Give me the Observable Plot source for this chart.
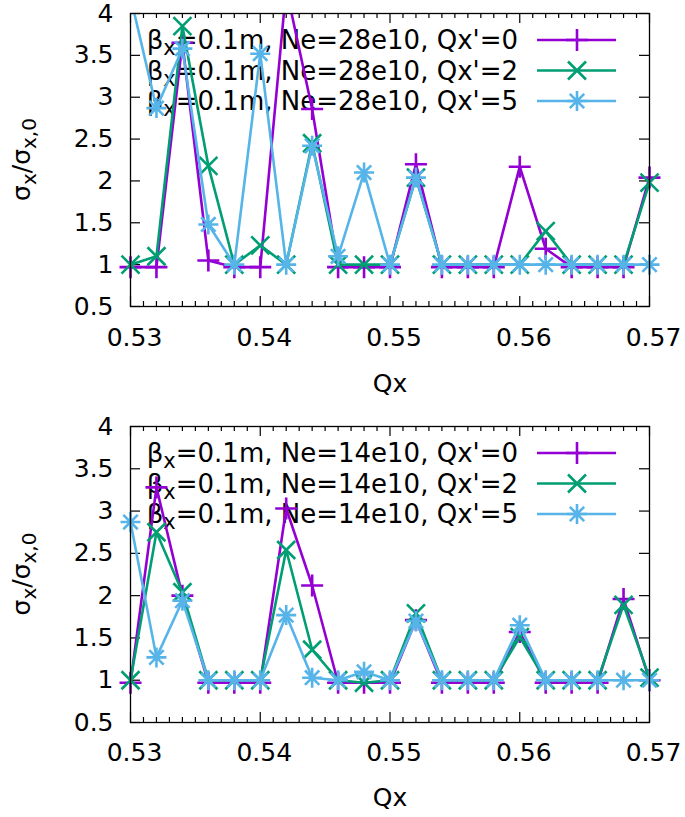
<!DOCTYPE html>
<html><head><meta charset="utf-8">
<script src="https://cdn.jsdelivr.net/npm/d3@7"></script>
<script src="https://cdn.jsdelivr.net/npm/@observablehq/plot@0.6"></script>
<style>
body{margin:0;background:#fff}
#chart svg{display:block}
</style>
</head><body><div id="chart"></div>
<script>
// ---- data ----
const qx = [0.530,0.532,0.534,0.536,0.538,0.540,0.542,0.544,0.546,0.548,0.550,0.552,0.554,0.556,0.558,0.560,0.562,0.564,0.566,0.568,0.570];
const seriesKeys = ["Qx'=0","Qx'=2","Qx'=5"];
const colors = ["#9400d3","#009e73","#56b4e9"];

// Ne = 28e10
const ne28_q0 = [0.97,0.97,3.65,1.05,0.97,0.97,4.3,2.86,0.97,0.97,0.97,2.2,0.97,0.97,0.97,2.17,1.19,0.97,0.97,0.97,2.04];
const ne28_q2 = [1.0,1.1,3.85,2.18,1.0,1.23,1.0,2.45,1.0,1.0,1.0,2.04,1.0,1.0,1.0,1.0,1.4,1.0,1.0,1.0,1.98];
const ne28_q5 = [4.2,2.87,3.58,1.48,1.0,3.52,1.0,2.42,1.1,2.1,1.0,2.04,1.0,1.0,1.0,1.0,1.0,1.0,1.0,1.0,1.0];

// Ne = 14e10
const ne14_q0 = [0.97,3.28,2.0,0.97,0.97,0.97,3.03,2.12,0.97,0.97,0.97,1.71,0.97,0.97,0.97,1.57,0.97,0.97,0.97,1.96,1.0];
const ne14_q2 = [1.0,2.75,2.04,1.0,1.0,1.0,2.54,1.36,1.0,0.97,1.0,1.79,1.0,1.0,1.0,1.51,1.0,1.0,1.0,1.89,1.03];
const ne14_q5 = [2.87,1.27,1.94,1.0,1.0,1.0,1.77,1.03,1.0,1.1,1.0,1.7,1.0,1.0,1.0,1.65,1.0,1.0,1.0,1.0,1.0];

const yTicks = [0.5,1,1.5,2,2.5,3,3.5,4];
const xTicks = [0.53,0.54,0.55,0.56,0.57];
const xTickLabels = ["0.53","0.54","0.55","0.56","0.57"];
const xMinor = [0.531,0.532,0.533,0.534,0.535,0.536,0.537,0.538,0.539,
                0.541,0.542,0.543,0.544,0.545,0.546,0.547,0.548,0.549,
                0.551,0.552,0.553,0.554,0.555,0.556,0.557,0.558,0.559,
                0.561,0.562,0.563,0.564,0.565,0.566,0.567,0.568,0.569];

// ---- symbols (gnuplot style) ----
const symPlus = {draw(c, size){const r=Math.sqrt(size/Math.PI); c.moveTo(-r,0); c.lineTo(r,0); c.moveTo(0,-r); c.lineTo(0,r);}};
const symTimes = {draw(c, size){const r=Math.sqrt(size/Math.PI); c.moveTo(-r,-r); c.lineTo(r,r); c.moveTo(-r,r); c.lineTo(r,-r);}};
const symStar = {draw(c, size){const r=Math.sqrt(size/Math.PI); const d=r*0.72; c.moveTo(-r,0); c.lineTo(r,0); c.moveTo(0,-r); c.lineTo(0,r); c.moveTo(-d,-d); c.lineTo(d,d); c.moveTo(-d,d); c.lineTo(d,-d);}};
const symbols = [symPlus, symTimes, symStar];
const symR = [11, 9, 10];

const W = 685, ML = 130, MR = 36, FS = 25, LFS = 26;
const FONT = "DejaVu Sans, sans-serif";

function panel({ne, series, height, marginTop, marginBottom, labelPad, qxDy}) {
  const H = height - marginTop - marginBottom;
  const FW = W - ML - MR;
  const rows = [];
  series.forEach((vals, s) => vals.forEach((v, i) => rows.push({x: qx[i], y: v, s})));

  const legend = () => {
    const g = d3.create("svg:g").attr("font-family", FONT).attr("font-size", LFS);
    const right = W - MR;
    seriesKeys.forEach((k, i) => {
      const y = marginTop + 27 + i * 30.5;
      const t = g.append("text").attr("x", right - 131).attr("y", y + 9)
        .attr("text-anchor", "end").attr("fill", "black");
      t.append("tspan").text("β");
      t.append("tspan").attr("font-size", 21).attr("dy", 6).text("x");
      t.append("tspan").attr("dy", -6).text(`=0.1m, Ne=${ne}, ${k}`);
      g.append("line").attr("x1", right - 112).attr("x2", right - 33)
        .attr("y1", y).attr("y2", y).attr("stroke", colors[i]).attr("stroke-width", 2.6);
      const p = d3.path(); symbols[i].draw(p, symR[i] * symR[i] * Math.PI);
      g.append("path").attr("d", p.toString()).attr("transform", `translate(${right - 72},${y})`)
        .attr("fill", "none").attr("stroke", colors[i]).attr("stroke-width", 2.6);
    });
    return g.node();
  };

  const yLabel = () => {
    const g = d3.create("svg:g").attr("font-family", FONT).attr("font-size", FS)
      .attr("transform", `translate(22,${marginTop + H / 2}) rotate(-90)`);
    const t = g.append("text").attr("text-anchor", "middle").attr("y", 8).attr("fill", "black");
    t.append("tspan").text("σ");
    t.append("tspan").attr("font-size", 20).attr("dy", 6).text("x");
    t.append("tspan").attr("dy", -6).text("/σ");
    t.append("tspan").attr("font-size", 20).attr("dy", 6).text("x,0");
    return g.node();
  };

  const marks = [
    legend,
    yLabel,
    Plot.tickX(xTicks, {x: d => d, insetTop: H - 10, stroke: "black", strokeWidth: 1.2}),
    Plot.tickX(xTicks, {x: d => d, insetBottom: H - 10, stroke: "black", strokeWidth: 1.2}),
    Plot.tickX(xMinor, {x: d => d, insetTop: H - 5, stroke: "black", strokeWidth: 1.2}),
    Plot.tickX(xMinor, {x: d => d, insetBottom: H - 5, stroke: "black", strokeWidth: 1.2}),
    Plot.tickY(yTicks, {y: d => d, insetRight: FW - 10, stroke: "black", strokeWidth: 1.2}),
    Plot.tickY(yTicks, {y: d => d, insetLeft: FW - 10, stroke: "black", strokeWidth: 1.2}),
    Plot.axisX({ticks: xTicks, tickFormat: (d, i) => xTickLabels[i], tickSize: 0, tickPadding: labelPad,
                dx: 4, fontSize: FS, label: null}),
    Plot.axisY({ticks: yTicks, tickFormat: d => String(d), tickSize: 0, tickPadding: 17,
                fontSize: FS, label: null}),
    Plot.text(["Qx"], {frameAnchor: "bottom", dy: qxDy, fontSize: FS, fill: "black"})
  ];
  series.forEach((vals, s) => {
    const data = rows.filter(r => r.s === s);
    marks.push(Plot.line(data, {x: "x", y: "y", stroke: colors[s], strokeWidth: 2.6, clip: true}));
    marks.push(Plot.dot(data, {x: "x", y: "y", filter: d => d.y <= 4 && d.y >= 0.5,
      symbol: symbols[s], r: symR[s], stroke: colors[s], strokeWidth: 2.6, fill: "none"}));
  });
  marks.push(Plot.frame({stroke: "black", strokeWidth: 1.3}));

  return Plot.plot({
    width: W, height,
    marginLeft: ML, marginRight: MR, marginTop, marginBottom,
    x: {domain: [0.53, 0.57]},
    y: {domain: [0.5, 4]},
    style: {fontFamily: FONT, fontSize: FS + "px", color: "black", background: "white", overflow: "visible"},
    marks
  });
}

const chart = document.getElementById("chart");
chart.append(panel({ne: "28e10", series: [ne28_q0, ne28_q2, ne28_q5], height: 408,
  marginTop: 13, marginBottom: 102, labelPad: 22, qxDy: 85}));
chart.append(panel({ne: "14e10", series: [ne14_q0, ne14_q2, ne14_q5], height: 409,
  marginTop: 18, marginBottom: 95, labelPad: 21, qxDy: 83}));
</script>
</body></html>
